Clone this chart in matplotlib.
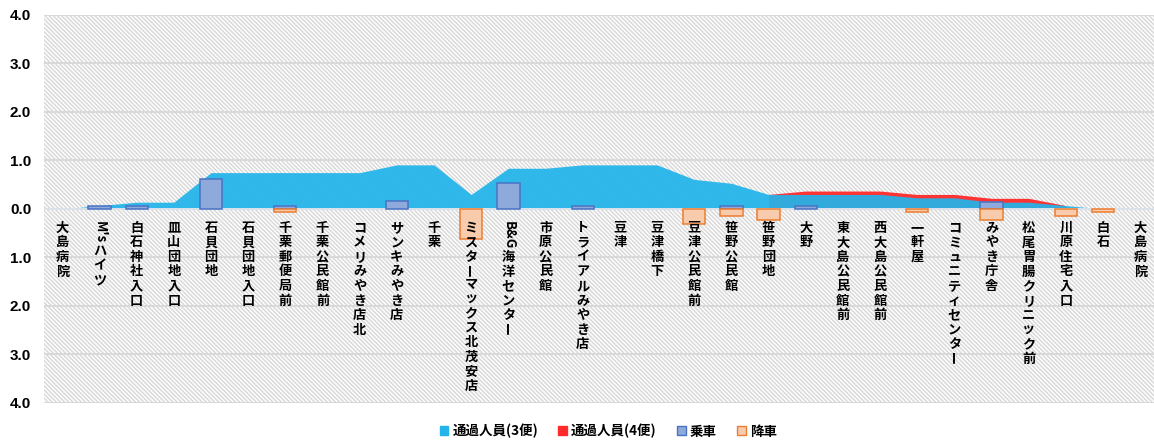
import re
import numpy as np
import matplotlib
matplotlib.use('Agg')
import matplotlib.pyplot as plt
from matplotlib.patches import Patch, Rectangle

plt.rcParams['font.family'] = ['Noto Sans CJK JP', 'DejaVu Sans']
plt.rcParams['hatch.color'] = '#d9d9d9'
plt.rcParams['hatch.linewidth'] = 1.1

# bus stops along the route
stops = ['大島病院', "M's ハイツ", '白石神社入口', '皿山団地入口', '石貝団地', '石貝団地入口',
         '千栗郵便局前', '千栗公民館前', 'コメリみやき店北', 'サンキみやき店', '千栗',
         'ミスターマックス北茂安店', 'B&G 海洋センター', '市原公民館', 'トライアルみやき店',
         '豆津', '豆津橋下', '豆津公民館前', '笹野公民館', '笹野団地', '大野',
         '東大島公民館前', '西大島公民館前', '一軒屋', 'コミュニティセンター', 'みやき庁舎',
         '松尾胃腸クリニック前', '川原住宅入口', '白石', '大島病院']

# passengers on board (average per day)
pass_3 = [0.00, 0.07, 0.14, 0.14, 0.75, 0.75, 0.75, 0.75, 0.75, 0.91,
          0.91, 0.30, 0.84, 0.84, 0.91, 0.91, 0.91, 0.61, 0.53, 0.30,
          0.30, 0.30, 0.30, 0.23, 0.23, 0.14, 0.14, 0.07, 0.00, 0.00]
pass_4 = [np.nan] * 19 + [0.30, 0.37, 0.37, 0.37, 0.30, 0.30, 0.22, 0.22, 0.07, np.nan, np.nan]

board = [0, 0.07, 0.07, 0, 0.61, 0, 0.07, 0, 0, 0.16,
         0, 0, 0.54, 0, 0.07, 0, 0, 0, 0.07, 0,
         0.07, 0, 0, 0, 0, 0.15, 0, 0, 0, 0]
alight = [0, 0, 0, 0, 0, 0, 0.07, 0, 0, 0,
          0, 0.61, 0, 0, 0, 0, 0, 0.31, 0.15, 0.23,
          0, 0, 0, 0.07, 0, 0.23, 0, 0.15, 0.07, 0]

c_p3 = '#22b4ea'
c_p4 = '#ff2a2a'
c_on, c_on_edge = '#8eaadb', '#4a72c4'
c_off, c_off_edge = '#f8cbad', '#ed7d31'

fig = plt.figure(figsize=(11.54, 4.41), dpi=100)
ax = fig.add_axes([0.0379, 0.0862, 0.9663, 0.8798])

x = np.arange(len(stops))
ax.set_xlim(-0.5, len(stops) - 0.5)
ax.set_ylim(-4, 4)

# hatched plot background
ax.add_patch(Rectangle((0, 0), 1, 1, transform=ax.transAxes, facecolor='white',
                       edgecolor='#d9d9d9', hatch='\\' * 8, linewidth=0, zorder=0))
for y in np.arange(-4, 4.1, 1):
    ax.axhline(y, color='#d9d9d9', linewidth=1.4, zorder=1)

# areas: 4便 behind 3便
ax.fill_between(x, 0, pass_4, color=c_p4, alpha=0.95, linewidth=0, zorder=2)
ax.fill_between(x, 0, pass_3, color=c_p3, alpha=0.93, linewidth=0, zorder=3)

on = np.array(board)
off = np.array(alight)
m = on > 0
ax.bar(x[m], on[m], width=0.6, color=c_on, edgecolor=c_on_edge, linewidth=1.1, zorder=4)
m = off > 0
ax.bar(x[m], -off[m], width=0.6, color=c_off, edgecolor=c_off_edge, linewidth=1.1, zorder=4)

ax.axhline(0, color='#dde3ea', linewidth=1.4, zorder=3.5)

for s in ax.spines.values():
    s.set_visible(False)

ax.set_yticks(np.arange(-4, 4.1, 1))
ax.set_yticklabels([f'{abs(v):.1f}' for v in np.arange(-4, 4.1, 1)],
                   fontsize=11, fontweight='bold', family=['Liberation Sans', 'DejaVu Sans'])
ax.tick_params(axis='y', length=0, pad=9)
ax.set_xticks([])


# vertical stop names below the zero line, written top to bottom
def pieces(name):
    out = []
    mt = re.match(r"^([A-Za-z'&]+)\s?(.*)$", name)
    if mt:
        out.append((mt.group(1), -90, 2.5))
        name = mt.group(2)
    for run in re.split(r'(ー)', name):
        if not run:
            continue
        if run == 'ー':
            out.append((run, 90, -0.8))
        else:
            out.append(('\n'.join(run), 0, 0.8))
    return out


txt = dict(ha='center', va='top', fontsize=9.5, fontweight='bold', zorder=6)
for i, name in enumerate(stops):
    prev = None
    for s, rot, gap in pieces(name):
        if prev is None:
            prev = ax.annotate(s, (i, 0), xytext=(0, -8.5), textcoords='offset points',
                               rotation=rot, linespacing=1.05, **txt)
        else:
            prev = ax.annotate(s, (0.5, 0), xycoords=prev, xytext=(0, -gap),
                               textcoords='offset points', rotation=rot,
                               linespacing=1.05, **txt)

handles = [Patch(facecolor=c_p3, edgecolor=c_p3, label='通過人員(3便)'),
           Patch(facecolor=c_p4, edgecolor=c_p4, label='通過人員(4便)'),
           Patch(facecolor=c_on, edgecolor=c_on_edge, label='乗車'),
           Patch(facecolor=c_off, edgecolor=c_off_edge, label='降車')]
fig.legend(handles=handles, loc='center', bbox_to_anchor=(0.527, 0.022), ncol=4,
           frameon=False, handlelength=0.65, handleheight=0.65,
           handletextpad=0.3, columnspacing=1.5, prop={'weight': 'bold', 'size': 9.7})

fig.savefig('out.png', dpi=100)
